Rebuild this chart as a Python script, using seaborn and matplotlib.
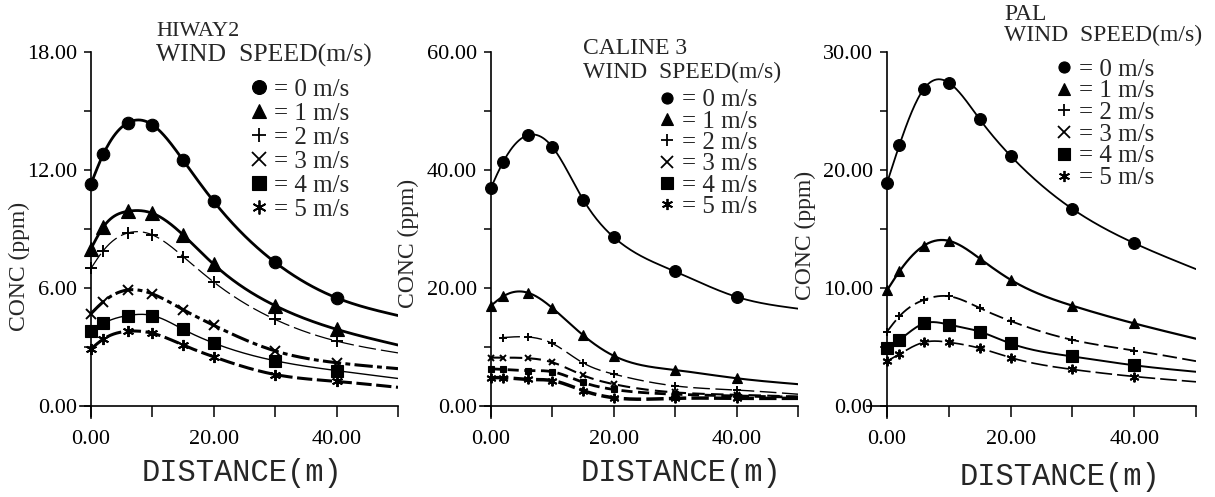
import numpy as np
import matplotlib
matplotlib.use("Agg")
import matplotlib.pyplot as plt
from matplotlib.lines import Line2D
from matplotlib.ticker import FixedLocator, FormatStrFormatter
import seaborn as sns

# ---------------------------------------------------------------- data
DISTANCE = [0, 2, 6, 10, 15, 20, 30, 40]      # receptor distance (m)
LINE_END = 50                                 # curves run on to the axis end
WIND_SPEEDS = [0, 1, 2, 3, 4, 5]              # m/s

# HIWAY2 concentrations (ppm), one list per wind speed; last entry = value at 50 m
HIWAY2_0 = [11.3, 12.8, 14.4, 14.3, 12.5, 10.4, 7.3, 5.5, 4.6]
HIWAY2_1 = [8.0, 9.1, 9.9, 9.8, 8.7, 7.2, 5.1, 3.9, 3.1]
HIWAY2_2 = [7.0, 7.9, 8.8, 8.7, 7.6, 6.3, 4.4, 3.3, 2.7]
HIWAY2_3 = [4.7, 5.3, 5.9, 5.7, 4.9, 4.1, 2.8, 2.2, 1.9]
HIWAY2_4 = [3.8, 4.2, 4.6, 4.6, 3.9, 3.2, 2.3, 1.8, 1.4]
HIWAY2_5 = [2.9, 3.4, 3.8, 3.7, 3.1, 2.5, 1.6, 1.25, 0.95]

# CALINE 3 concentrations (ppm)
CALINE3_0 = [37.0, 41.4, 45.9, 43.9, 35.0, 28.6, 22.8, 18.5, 16.5]
CALINE3_1 = [17.0, 18.6, 19.2, 16.6, 12.0, 8.5, 6.1, 4.7, 3.7]
CALINE3_2 = [np.nan, 11.6, 11.7, 10.6, 7.3, 5.4, 3.4, 2.7, 2.0]
CALINE3_3 = [8.2, 8.2, 8.1, 7.4, 5.2, 3.7, 2.3, 1.9, 1.6]
CALINE3_4 = [6.3, 6.2, 6.0, 5.8, 4.0, 2.8, 2.0, 1.7, 1.5]
CALINE3_5 = [4.8, 4.8, 4.5, 4.3, 2.6, 1.4, 1.3, 1.3, 1.3]

# PAL concentrations (ppm); no 3 m/s curve is drawn
PAL_0 = [18.9, 22.1, 26.9, 27.4, 24.3, 21.2, 16.7, 13.8, 11.6]
PAL_1 = [9.8, 11.4, 13.6, 14.0, 12.5, 10.7, 8.5, 7.0, 5.7]
PAL_2 = [6.3, 7.6, 9.0, 9.3, 8.3, 7.2, 5.6, 4.7, 3.8]
PAL_4 = [4.9, 5.6, 7.0, 6.9, 6.3, 5.3, 4.2, 3.45, 2.9]
PAL_5 = [3.8, 4.4, 5.4, 5.4, 4.9, 4.1, 3.1, 2.5, 2.05]

Y_MAX = [18, 60, 30]
Y_MAJOR = [[0, 6, 12, 18], [0, 20, 40, 60], [0, 10, 20, 30]]
Y_MINOR = [[3, 9, 15], [10, 30, 50], [5, 15, 25]]
X_MAJOR = [0, 20, 40]
X_MINOR = [10, 30, 50]
LEGEND_LABELS = ["= 0 m/s", "= 1 m/s", "= 2 m/s", "= 3 m/s", "= 4 m/s", "= 5 m/s"]

# ---------------------------------------------------------------- styling
MARKERS = ["o", "^", "+", "x", "s", (6, 2, 0)]

# per panel: speed -> (linewidth, linestyle, markersize)
STYLES = [
    {0: (2.0, "-", 9), 1: (2.0, "-", 9.5), 2: (0.9, (0, (14, 4)), 8),
     3: (2.2, (0, (6, 1.4, 1.6, 1.4)), 7), 4: (1.0, "-", 8), 5: (2.2, (0, (5, 1.5)), 8)},
    {0: (1.3, "-", 8.5), 1: (1.5, "-", 7), 2: (1.0, (0, (12, 4)), 6),
     3: (1.5, (0, (6, 3)), 5), 4: (2.0, (0, (4, 2)), 4), 5: (2.5, (0, (5, 1.5)), 7)},
    {0: (1.3, "-", 8.5), 1: (1.6, "-", 7), 2: (1.3, (0, (8, 3)), 6),
     4: (1.4, "-", 8), 5: (1.2, (0, (10, 3)), 7)},
]

PANELS = [
    {0: HIWAY2_0, 1: HIWAY2_1, 2: HIWAY2_2, 3: HIWAY2_3, 4: HIWAY2_4, 5: HIWAY2_5},
    {0: CALINE3_0, 1: CALINE3_1, 2: CALINE3_2, 3: CALINE3_3, 4: CALINE3_4, 5: CALINE3_5},
    {0: PAL_0, 1: PAL_1, 2: PAL_2, 4: PAL_4, 5: PAL_5},
]

W, H = 1215, 497
sns.set_theme(style="white")
plt.rcParams["font.family"] = ["Liberation Serif", "DejaVu Sans"]
plt.rcParams["axes.unicode_minus"] = False

fig = plt.figure(figsize=(W / 100, H / 100), dpi=100)
fig.patch.set_facecolor("white")


def fx(x):
    return x / W


def fy(y):
    return 1 - y / H


def natural_spline(x, y, n=300):
    """Smooth curve through the measured points (natural cubic spline)."""
    x = np.asarray(x, float)
    y = np.asarray(y, float)
    k = len(x)
    h = np.diff(x)
    A = np.zeros((k, k))
    b = np.zeros(k)
    A[0, 0] = A[-1, -1] = 1
    for i in range(1, k - 1):
        A[i, i - 1] = h[i - 1]
        A[i, i] = 2 * (h[i - 1] + h[i])
        A[i, i + 1] = h[i]
        b[i] = 6 * ((y[i + 1] - y[i]) / h[i] - (y[i] - y[i - 1]) / h[i - 1])
    M = np.linalg.solve(A, b)
    xs = np.linspace(x[0], x[-1], n)
    idx = np.clip(np.searchsorted(x, xs) - 1, 0, k - 2)
    x0, x1 = x[idx], x[idx + 1]
    hh = x1 - x0
    t0, t1 = x1 - xs, xs - x0
    ys = (M[idx] * t0 ** 3 + M[idx + 1] * t1 ** 3) / (6 * hh) \
        + (y[idx] / hh - M[idx] * hh / 6) * t0 + (y[idx + 1] / hh - M[idx + 1] * hh / 6) * t1
    return xs, ys


# axes geometry in pixels: (x of 0 m, x of 50 m, left end of x axis)
GEOM = [(91, 398, 80), (491, 798, 480), (887, 1196, 867)]
Y0_PX, YTOP_PX, YBOT_PX = 406, 52, 418

line_x = DISTANCE + [LINE_END]

for p, (x0, x50, xl) in enumerate(GEOM):
    ax = fig.add_axes([fx(xl), fy(YBOT_PX), fx(x50 - xl), (YBOT_PX - YTOP_PX) / H])
    ax.set_facecolor("none")
    ppu_x = (x50 - x0) / 50
    ppu_y = (Y0_PX - YTOP_PX) / Y_MAX[p]
    ax.set_xlim(-(x0 - xl) / ppu_x, 50)
    ax.set_ylim(-(YBOT_PX - Y0_PX) / ppu_y, Y_MAX[p])

    for spd, vals in PANELS[p].items():
        lw, ls, ms = STYLES[p][spd]
        vx = np.array(line_x, float)
        vy = np.array(vals, float)
        ok = ~np.isnan(vy)
        xs, ys = natural_spline(vx[ok], vy[ok])
        sns.lineplot(x=xs, y=ys, ax=ax, color="black", lw=lw, linestyle=ls,
                     estimator=None, sort=False, legend=False)
        mx = vx[ok][:-1]
        my = vy[ok][:-1]
        mk = MARKERS[spd]
        filled = mk in ("o", "^", "s")
        sns.lineplot(x=mx, y=my, ax=ax, color="black", linestyle="none",
                     marker=mk, markersize=ms, markeredgecolor="black",
                     markerfacecolor="black" if filled else "none",
                     markeredgewidth=0.8 if filled else 1.4,
                     estimator=None, legend=False)

    # axes frame: y axis at x=0, x axis at y=0
    for side in ("top", "right"):
        ax.spines[side].set_visible(False)
    ax.spines["left"].set_position(("data", 0))
    ax.spines["bottom"].set_position(("data", 0))
    for side in ("left", "bottom"):
        ax.spines[side].set_color("black")
        ax.spines[side].set_linewidth(1.2)
    ax.xaxis.set_major_locator(FixedLocator(X_MAJOR))
    ax.xaxis.set_minor_locator(FixedLocator(X_MINOR))
    ax.yaxis.set_major_locator(FixedLocator(Y_MAJOR[p]))
    ax.yaxis.set_minor_locator(FixedLocator(Y_MINOR[p]))
    ax.xaxis.set_major_formatter(FormatStrFormatter("%.2f"))
    ax.yaxis.set_major_formatter(FormatStrFormatter("%.2f"))
    ax.tick_params(axis="x", which="both", direction="out", length=8, width=1.1,
                   colors="black", labelsize=16, pad=9, bottom=True)
    ax.tick_params(axis="y", which="both", direction="out", length=5, width=1.1,
                   colors="black", labelsize=16, pad=5, left=True)
    ax.grid(False)
    ax.set_xlabel("")
    ax.set_ylabel("")

    # key: marker = speed
    handles = []
    for spd in WIND_SPEEDS:
        mk = MARKERS[spd]
        filled = mk in ("o", "^", "s")
        handles.append(Line2D([], [], linestyle="none", marker=mk, color="black",
                              markersize=10 if p == 0 else 8,
                              markerfacecolor="black" if filled else "none",
                              markeredgewidth=0.8 if filled else 1.3))
    leg_pos = [(250, 78), (658, 89), (1055, 58)][p]
    leg_space = [0.06, -0.05, -0.03][p]
    ax.legend(handles, LEGEND_LABELS, loc="upper left",
              bbox_to_anchor=(fx(leg_pos[0]), fy(leg_pos[1])),
              bbox_transform=fig.transFigure, frameon=False,
              fontsize=18, handlelength=0.7,
              handletextpad=0.25, borderpad=0, borderaxespad=0,
              labelspacing=leg_space)

# model names and key headings
fig.text(fx(156), fy(32), "HIWAY2", fontsize=16, va="center", ha="left")
fig.text(fx(156), fy(55), "WIND  SPEED(m/s)", fontsize=18.5, va="center", ha="left")
fig.text(fx(583), fy(49), "CALINE 3", fontsize=17, va="center", ha="left")
fig.text(fx(583), fy(72), "WIND  SPEED(m/s)", fontsize=17, va="center", ha="left")
fig.text(fx(1004), fy(15), "PAL", fontsize=17, va="center", ha="left")
fig.text(fx(1004), fy(35), "WIND  SPEED(m/s)", fontsize=17, va="center", ha="left")

# axis titles
for cx, cy in [(19, 266), (408, 243), (805, 235)]:
    fig.text(fx(cx), fy(cy), "CONC (ppm)", fontsize=17, rotation=90,
             va="center", ha="center")
for cx, cy in [(242, 473), (681, 473), (1060, 477)]:
    fig.text(fx(cx), fy(cy), "DISTANCE(m)", fontsize=22, family="Liberation Mono",
             va="center", ha="center")

fig.savefig("out.png", dpi=100, facecolor="white")
